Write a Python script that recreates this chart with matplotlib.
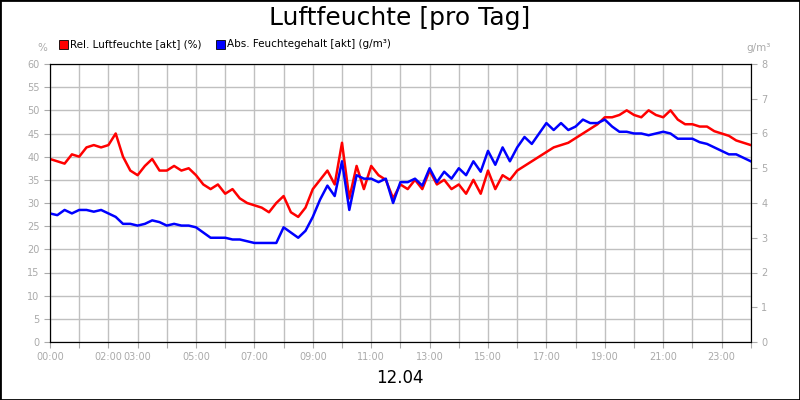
import matplotlib.pyplot as plt
import numpy as np

# 15-minute samples, 00:00 .. 24:00
rel_humidity = [
    39.5, 39, 38.5, 40.5, 40, 42, 42.5, 42, 42.5, 45, 40, 37, 36, 38, 39.5, 37,
    37, 38, 37, 37.5, 36, 34, 33, 34, 32, 33, 31, 30, 29.5, 29, 28, 30,
    31.5, 28, 27, 29, 33, 35, 37, 34, 43, 31, 38, 33, 38, 36, 35, 31,
    34, 33, 35, 33, 37, 34, 35, 33, 34, 32, 35, 32, 37, 33, 36, 35,
    37, 38, 39, 40, 41, 42, 42.5, 43, 44, 45, 46, 47, 48.5, 48.5, 49, 50,
    49, 48.5, 50, 49, 48.5, 50, 48, 47, 47, 46.5, 46.5, 45.5, 45, 44.5, 43.5, 43,
    42.5,
]
abs_humidity = [
    3.7, 3.65, 3.8, 3.7, 3.8, 3.8, 3.75, 3.8, 3.7, 3.6, 3.4, 3.4, 3.35, 3.4, 3.5, 3.45,
    3.35, 3.4, 3.35, 3.35, 3.3, 3.15, 3.0, 3.0, 3.0, 2.95, 2.95, 2.9, 2.85, 2.85, 2.85, 2.85,
    3.3, 3.15, 3.0, 3.2, 3.6, 4.1, 4.5, 4.2, 5.2, 3.8, 4.8, 4.7, 4.7, 4.6, 4.7, 4.0,
    4.6, 4.6, 4.7, 4.5, 5.0, 4.6, 4.9, 4.7, 5.0, 4.8, 5.2, 4.9, 5.5, 5.1, 5.6, 5.2,
    5.6, 5.9, 5.7, 6.0, 6.3, 6.1, 6.3, 6.1, 6.2, 6.4, 6.3, 6.3, 6.4, 6.2, 6.05, 6.05,
    6.0, 6.0, 5.95, 6.0, 6.05, 6.0, 5.85, 5.85, 5.85, 5.75, 5.7, 5.6, 5.5, 5.4, 5.4, 5.3,
    5.2,
]
tick_hours = [0, 2, 3, 5, 7, 9, 11, 13, 15, 17, 19, 21, 23]
hours = np.arange(len(rel_humidity)) * 0.25

grey = "#aaaaaa"
fig = plt.figure(figsize=(8, 4), dpi=100)
fig.patches.append(plt.Rectangle((0, 0), 1, 1, transform=fig.transFigure,
                                 fill=False, edgecolor="black", linewidth=2))
ax = fig.add_axes([0.0625, 0.145, 0.876, 0.695])
ax2 = ax.twinx()

ax.plot(hours, rel_humidity, color="#ff0000", linewidth=1.8)
ax2.plot(hours, abs_humidity, color="#0000ff", linewidth=1.8)

ax.set_xlim(0, 24)
ax.set_ylim(0, 60)
ax2.set_ylim(0, 8)
ax.set_xticks(range(25))
ax.set_xticklabels([f"{h:02d}:00" if h in tick_hours else "" for h in range(25)])
ax.set_yticks(range(0, 61, 5))
ax2.set_yticks(range(0, 9))
ax.grid(True, color="#c0c0c0", linewidth=1)
ax.set_axisbelow(True)
for a in (ax, ax2):
    a.tick_params(colors=grey, labelsize=7, length=4)
    for s in a.spines.values():
        s.set_color("black")

fig.text(0.5, 0.955, "Luftfeuchte [pro Tag]", ha="center", va="center", fontsize=18)
fig.text(0.5, 0.055, "12.04", ha="center", va="center", fontsize=12)
fig.text(0.053, 0.88, "%", ha="center", va="center", fontsize=7.5, color=grey)
fig.text(0.948, 0.88, "g/m³", ha="center", va="center", fontsize=7.5, color=grey)
fig.patches.append(plt.Rectangle((0.074, 0.878), 0.011, 0.022, transform=fig.transFigure,
                                 facecolor="#ff0000", edgecolor="black", linewidth=0.6))
fig.text(0.088, 0.889, "Rel. Luftfeuchte [akt] (%)", va="center", fontsize=7.5)
fig.patches.append(plt.Rectangle((0.270, 0.878), 0.011, 0.022, transform=fig.transFigure,
                                 facecolor="#0000ff", edgecolor="black", linewidth=0.6))
fig.text(0.284, 0.889, "Abs. Feuchtegehalt [akt] (g/m³)", va="center", fontsize=7.5)

fig.savefig("out.png", dpi=100)
